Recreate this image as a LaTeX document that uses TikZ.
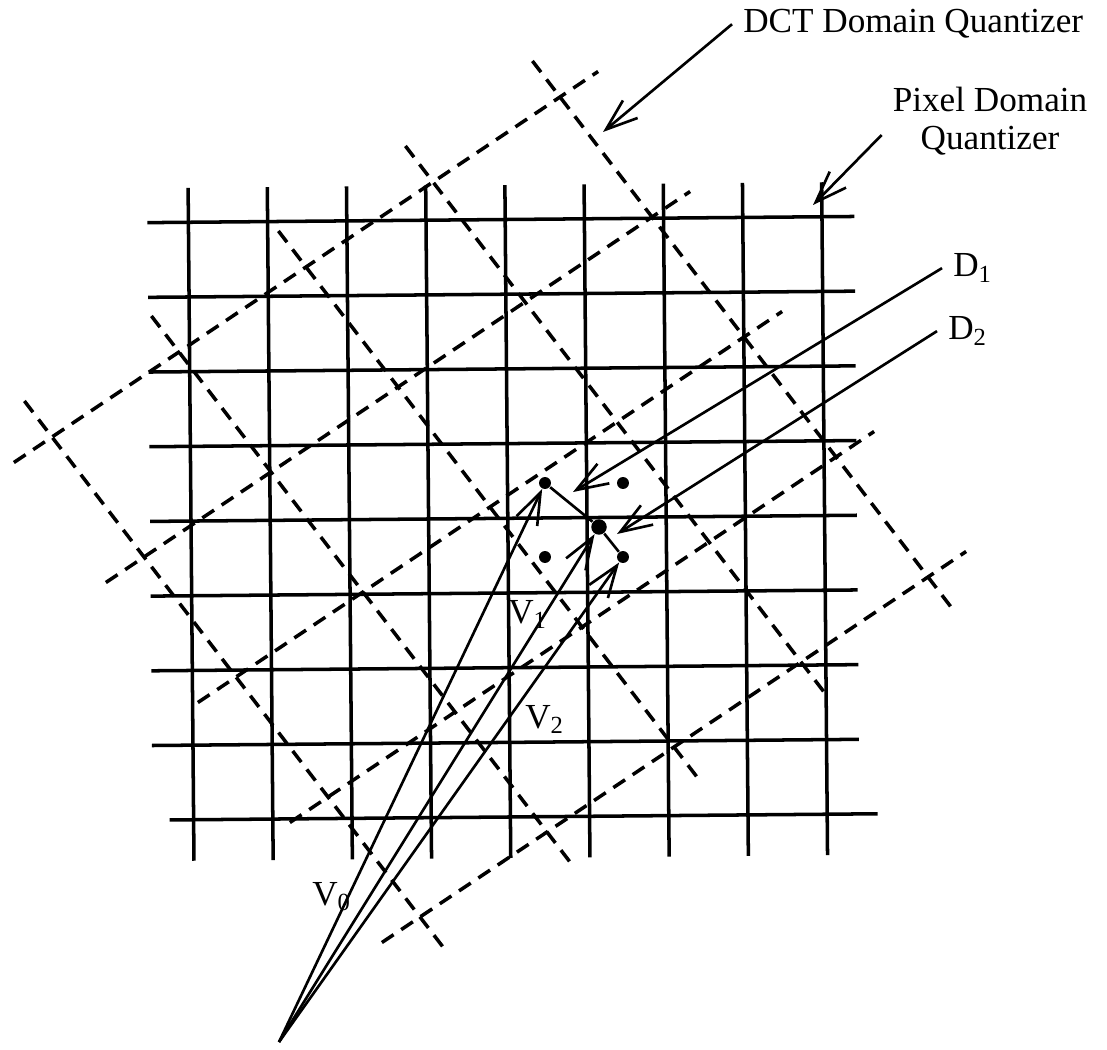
\documentclass[tikz,border=0pt]{standalone}
\usepackage{fontspec}
\setmainfont{Liberation Serif}
\usetikzlibrary{arrows.meta,calc}
\tikzset{
	gridline/.style={line width=1pt},
	dctgrid/.style={line width=1pt,dash pattern=on 4pt off 2.6pt},
	vecarrow/.style={line width=0.75pt,-{Straight Barb[length=9pt,width=6.5pt,line width=0.75pt]}},
	sample/.style={circle,fill,inner sep=0pt,minimum size=3.4pt},
	centre/.style={circle,fill,inner sep=0pt,minimum size=4.4pt},
	lbl/.style={inner sep=3pt,font=\fontsize{10}{11}\selectfont}
}
\begin{document}
\begin{tikzpicture}[x=0.01cm,y=-0.01cm]
	\useasboundingbox (0,0) rectangle (1107,1049);
	% pixel domain grid
	\begin{scope}[rotate around={0.5:(507,520)}]
		\foreach \k in {0,...,7}
			\draw[gridline] (150,{219.5+74.7*\k}) -- (857,{219.5+74.7*\k});
		\draw[gridline] (167,817) -- (875,817);
		\foreach \k in {0,...,8}
			\draw[gridline] ({191+79.2*\k},185) -- ({191+79.2*\k},858);
	\end{scope}
	% dct domain grid
	\coordinate (o) at (52,437);
	\foreach \j in {0,...,4}
		\draw[dctgrid] ($(o)-0.3*(127,-85)+\j*(92,120)$) -- ($(o)+4.3*(127,-85)+\j*(92,120)$);
	\foreach \i in {0,...,4}
		\draw[dctgrid] ($(o)+\i*(127,-85)-0.3*(92,120)$) -- ($(o)+\i*(127,-85)+4.3*(92,120)$);
	% points
	\node[sample] (p1) at (545,483) {};
	\node[sample] (p2) at (623,483) {};
	\node[sample] (p3) at (545,557) {};
	\node[sample] (p4) at (623,557) {};
	\node[centre] (c) at (599,527) {};
	\draw[line width=0.75pt] (p1) -- (c) -- (p4);
	% vectors
	\coordinate (base) at (279,1042);
	\draw[vecarrow] (base) -- (p1);
	\draw[vecarrow] (base) -- (c);
	\draw[vecarrow] (base) -- (p4);
	\node[lbl,anchor=base west] (v0) at (301,905) {V\textsubscript{0}};
	\node[lbl,anchor=base west] (v1) at (497,623) {V\textsubscript{1}};
	\node[lbl,anchor=base west] (v2) at (514,728) {V\textsubscript{2}};
	% distortions
	\node[lbl,anchor=base west] (d1) at (942,277) {D\textsubscript{1}};
	\node[lbl,anchor=base west] (d2) at (937,340) {D\textsubscript{2}};
	\coordinate (d1tip) at (573,492);
	\coordinate (d2tip) at (617,534);
	\draw[vecarrow] (d1.west) -- (d1tip);
	\draw[vecarrow] (d2.west) -- (d2tip);
	% quantizer labels
	\node[lbl,anchor=base west] (dct) at (732,33) {DCT Domain Quantizer};
	\node[lbl,align=center] (pix) at (990,121) {Pixel Domain\\Quantizer};
	\coordinate (dcttip) at (603,132);
	\coordinate (pixtip) at (813,205);
	\draw[vecarrow] (dct.west) -- (dcttip);
	\draw[vecarrow] ([yshift=-4pt]pix.west) -- (pixtip);
\end{tikzpicture}
\end{document}
